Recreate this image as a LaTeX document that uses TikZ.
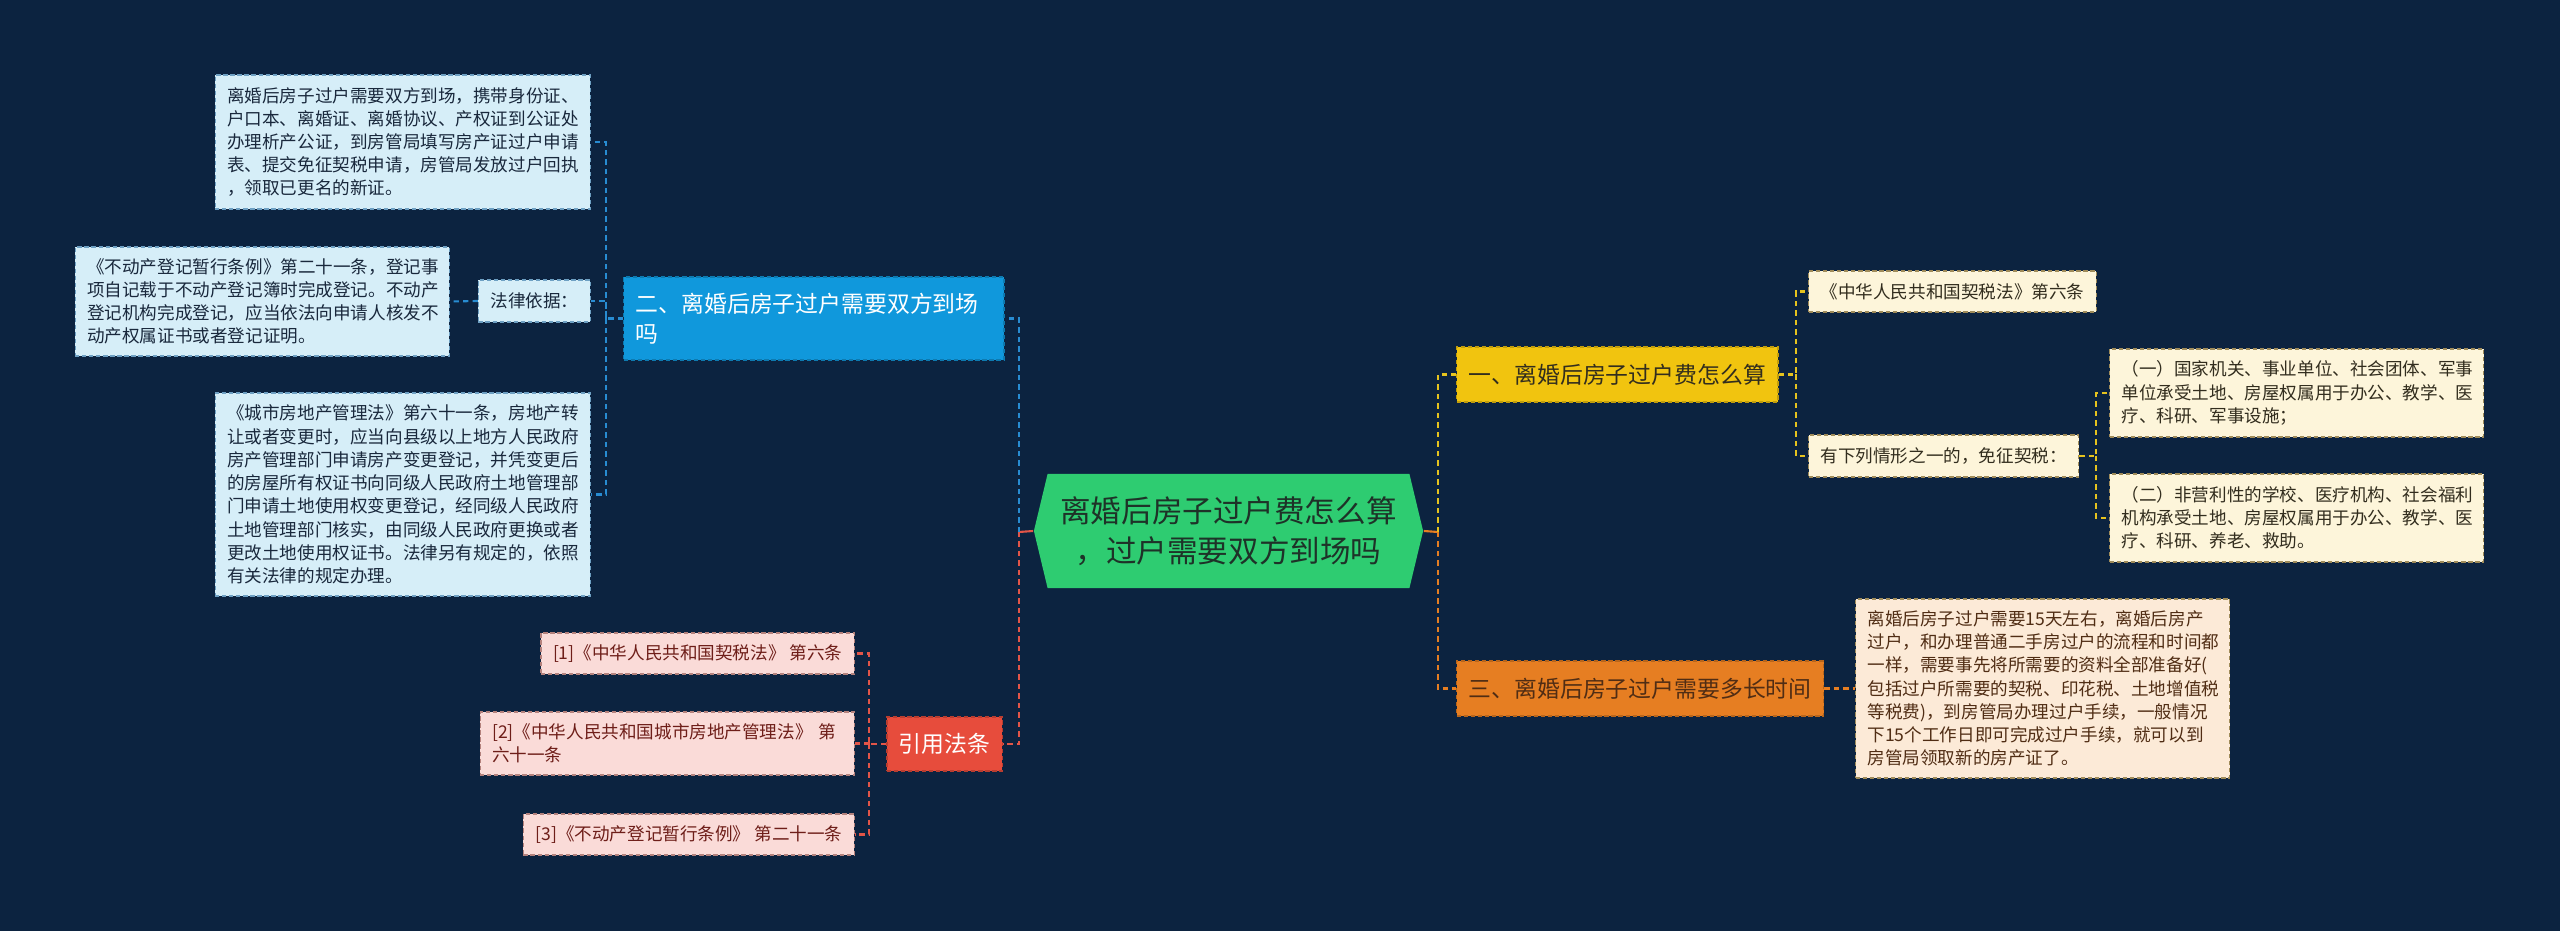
\documentclass[tikz,border=0pt]{standalone}
\usepackage{fontspec}
\setmainfont{Noto Sans CJK SC}
\usetikzlibrary{shapes.symbols}
\definecolor{bgnavy}{RGB}{12,35,64}
\definecolor{abox}{RGB}{214,238,248}
\definecolor{aline}{RGB}{110,160,195}
\definecolor{atext}{RGB}{25,40,60}
\definecolor{erblue}{RGB}{16,152,220}
\definecolor{rootgreen}{RGB}{46,204,113}
\definecolor{roottext}{RGB}{30,50,40}
\definecolor{yiyellow}{RGB}{241,196,15}
\definecolor{sanorange}{RGB}{230,126,34}
\definecolor{yinred}{RGB}{231,76,60}
\definecolor{bbox}{RGB}{253,245,218}
\definecolor{bline}{RGB}{160,140,90}
\definecolor{btext}{RGB}{50,45,30}
\definecolor{dbox}{RGB}{252,234,215}
\definecolor{dtext}{RGB}{80,45,20}
\definecolor{rbox}{RGB}{250,219,216}
\definecolor{rline}{RGB}{180,130,125}
\definecolor{rtext}{RGB}{110,30,25}
\definecolor{blueline}{RGB}{40,140,210}
\definecolor{yellowline}{RGB}{230,195,30}
\definecolor{orangeline}{RGB}{230,126,34}
\definecolor{redline}{RGB}{226,85,72}
\begin{document}
\begin{tikzpicture}[x=0.01cm,y=-0.01cm,
    every node/.append style={inner xsep=0.12cm,inner ysep=0.05cm},
    small/.style={font=\fontsize{5}{6.6}\selectfont},
    mid/.style={font=\fontsize{6.5}{8.5}\selectfont},
    leaf/.style={small,draw,dash pattern=on 1.2pt off 0.8pt,line width=0.35pt,align=left},
    topic/.style={mid,draw=#1!80!black,fill=#1,dash pattern=on 1.2pt off 0.8pt,line width=0.4pt,align=left,minimum height=0.55cm},
    ablock/.style={leaf,fill=abox,draw=aline,text=atext},
    bblock/.style={leaf,fill=bbox,draw=bline,text=btext},
    rblock/.style={leaf,fill=rbox,draw=rline,text=rtext},
    link/.style={dash pattern=on 1.5pt off 1.2pt,line width=0.6pt}]
    \fill[bgnavy] (0,0) rectangle (2560,931);

    \node[signal,signal to=east and west,signal pointer angle=153,fill=rootgreen,text=roottext,
        align=center,font=\fontsize{8.7}{11.4}\selectfont,minimum width=3.89cm,minimum height=1.14cm]
        (root) at (1228.5,531) {离婚后房子过户费怎么算\\，过户需要双方到场吗};

    \node[topic=erblue,text=white,text width=3.56cm,minimum height=0.83cm,anchor=west] (er) at (623,318.5)
        {二、离婚后房子过户需要双方到场\\吗};
    \node[ablock,text width=3.51cm,minimum height=1.34cm,anchor=east] (a1) at (591,142)
        {离婚后房子过户需要双方到场，携带身份证、\\户口本、离婚证、离婚协议、产权证到公证处\\办理析产公证，到房管局填写房产证过户申请\\表、提交免征契税申请，房管局发放过户回执\\，领取已更名的新证。};
    \node[ablock,minimum height=0.42cm,anchor=east] (law) at (591,301) {法律依据：};
    \node[ablock,text width=3.50cm,minimum height=1.09cm,anchor=east] (a2) at (450,301.5)
        {《不动产登记暂行条例》第二十一条，登记事\\项自记载于不动产登记簿时完成登记。不动产\\登记机构完成登记，应当依法向申请人核发不\\动产权属证书或者登记证明。};
    \node[ablock,text width=3.51cm,minimum height=2.03cm,anchor=east] (a3) at (591,494.5)
        {《城市房地产管理法》第六十一条，房地产转\\让或者变更时，应当向县级以上地方人民政府\\房产管理部门申请房产变更登记，并凭变更后\\的房屋所有权证书向同级人民政府土地管理部\\门申请土地使用权变更登记，经同级人民政府\\土地管理部门核实，由同级人民政府更换或者\\更改土地使用权证书。法律另有规定的，依照\\有关法律的规定办理。};

    \node[topic=yiyellow,text=btext,anchor=west] (yi) at (1456,374.5) {一、离婚后房子过户费怎么算};
    \node[topic=sanorange,text=dtext,anchor=west] (san) at (1456,688.5) {三、离婚后房子过户需要多长时间};
    \node[bblock,minimum height=0.41cm,anchor=west] (b1) at (1808,291.5) {《中华人民共和国契税法》第六条};
    \node[bblock,minimum height=0.42cm,anchor=west] (b2) at (1808,456) {有下列情形之一的，免征契税：};
    \node[bblock,text width=3.5cm,minimum height=0.88cm,anchor=west] (c1) at (2109,393)
        {（一）国家机关、事业单位、社会团体、军事\\单位承受土地、房屋权属用于办公、教学、医\\疗、科研、军事设施；};
    \node[bblock,text width=3.5cm,minimum height=0.88cm,anchor=west] (c2) at (2109,518)
        {（二）非营利性的学校、医疗机构、社会福利\\机构承受土地、房屋权属用于办公、教学、医\\疗、科研、养老、救助。};
    \node[leaf,fill=dbox,draw=bline,text=dtext,text width=3.5cm,minimum height=1.79cm,anchor=west] (d) at (1855,688.5)
        {离婚后房子过户需要15天左右，离婚后房产\\过户，和办理普通二手房过户的流程和时间都\\一样，需要事先将所需要的资料全部准备好(\\包括过户所需要的契税、印花税、土地增值税\\等税费)，到房管局办理过户手续，一般情况\\下15个工作日即可完成过户手续，就可以到\\房管局领取新的房产证了。};

    \node[topic=yinred,text=white,minimum height=0.54cm,anchor=east] (yin) at (1003,744) {引用法条};
    \node[rblock,minimum height=0.41cm,anchor=east] (r1) at (855,653.5) {[1]《中华人民共和国契税法》 第六条};
    \node[rblock,text width=3.5cm,minimum height=0.63cm,anchor=east] (r2) at (855,743.5)
        {[2]《中华人民共和国城市房地产管理法》 第\\六十一条};
    \node[rblock,minimum height=0.41cm,anchor=east] (r3) at (855,834.5) {[3]《不动产登记暂行条例》 第二十一条};

    \coordinate (lbus) at (1019,532);
    \coordinate (rbus) at (1438,532);

    \draw[line width=0.6pt,redline] (root.west) -- (lbus);
    \draw[line width=0.6pt,orangeline] (root.east) -- (rbus);
    \draw[link,blueline] (lbus) |- (er.east);
    \draw[link,redline] (lbus) |- (yin.east);
    \draw[link,orangeline] (rbus) |- (san.west);
    \draw[link,yellowline] (rbus) |- (yi.west);

    \draw[link,blueline] (er.west) -- ++(-17,0) coordinate (abus) |- (a1.east);
    \draw[link,blueline] (abus) |- (law.east);
    \draw[link,blueline] (abus) |- (a3.east);
    \draw[link,blueline] (law.west) -- (a2.east);

    \draw[link,yellowline] (yi.east) -- ++(17,0) coordinate (bbus) |- (b1.west);
    \draw[link,yellowline] (bbus) |- (b2.west);
    \draw[link,yellowline] (b2.east) -- ++(17,0) coordinate (cbus) |- (c1.west);
    \draw[link,yellowline] (cbus) |- (c2.west);
    \draw[link,orangeline] (san.east) -- (d.west);

    \draw[link,redline] (yin.west) -- ++(-17,0) coordinate (refbus) |- (r1.east);
    \draw[link,redline] (refbus) |- (r2.east);
    \draw[link,redline] (refbus) |- (r3.east);
\end{tikzpicture}
\end{document}
